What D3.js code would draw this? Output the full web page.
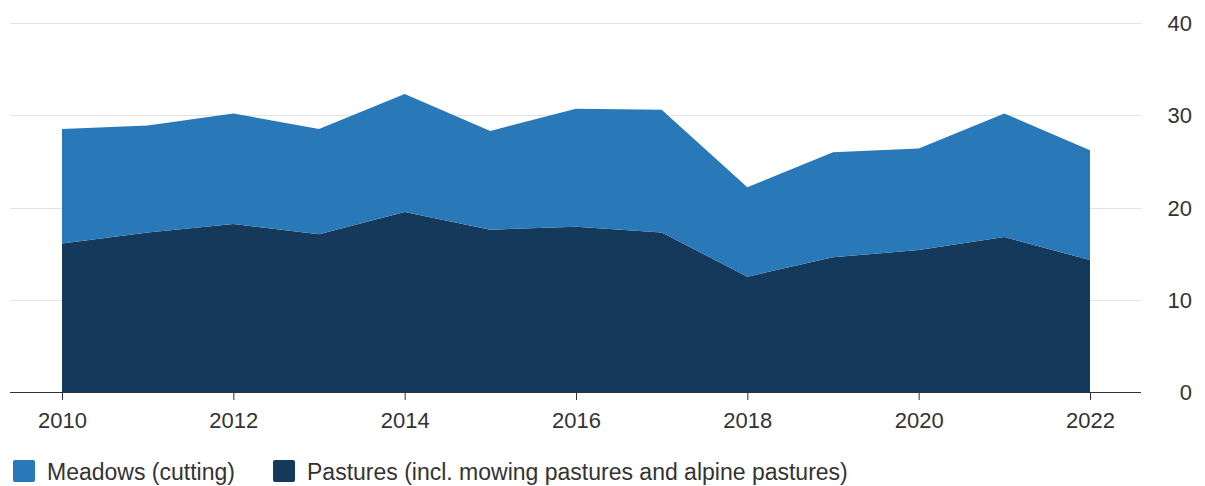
<!DOCTYPE html>
<html>
<head>
<meta charset="utf-8">
<script src="https://cdn.jsdelivr.net/npm/d3@7"></script>
<style>
  body { margin: 0; background: #fff; }
  svg text { font-family: "Liberation Sans", Arial, sans-serif; fill: #333; }
</style>
</head>
<body>
<svg id="chart" width="1205" height="486"></svg>
<script>
var years = [2010, 2011, 2012, 2013, 2014, 2015, 2016, 2017, 2018, 2019, 2020, 2021, 2022];
var pastures = [16.1, 17.3, 18.2, 17.1, 19.5, 17.6, 17.9, 17.3, 12.5, 14.6, 15.4, 16.8, 14.3];
var meadows = [12.4, 11.6, 12.0, 11.4, 12.8, 10.7, 12.8, 13.3, 9.7, 11.4, 11.0, 13.4, 11.9];
var yTicks = [0, 10, 20, 30, 40];
var xTicks = [2010, 2012, 2014, 2016, 2018, 2020, 2022];
var seriesNames = ["Meadows (cutting)", "Pastures (incl. mowing pastures and alpine pastures)"];
var colors = ["#2978b8", "#14395a"];

var svg = d3.select("#chart");
var plotLeft = 10, plotRight = 1141;

var x = d3.scaleLinear().domain([2010, 2022]).range([62, 1090]);
var y = d3.scaleLinear().domain([0, 40]).range([392, 23]);

// stacked rows: pastures at the bottom, meadows on top
var rows = years.map(function(yr, i) {
  return { year: yr, pastures: pastures[i], meadows: meadows[i] };
});
var stack = d3.stack().keys(["pastures", "meadows"]);
var layers = stack(rows);

// gridlines
svg.append("g")
  .selectAll("line")
  .data(yTicks.filter(function(d) { return d > 0; }))
  .enter().append("line")
    .attr("x1", plotLeft)
    .attr("x2", plotRight)
    .attr("y1", function(d) { return Math.round(y(d)) + 0.5; })
    .attr("y2", function(d) { return Math.round(y(d)) + 0.5; })
    .attr("stroke", "#e3e3e3")
    .attr("stroke-width", 1);

var area = d3.area()
  .x(function(d) { return x(d.data.year); })
  .y0(function(d) { return y(d[0]); })
  .y1(function(d) { return y(d[1]); });

svg.append("g")
  .selectAll("path")
  .data(layers)
  .enter().append("path")
    .attr("d", area)
    .attr("fill", function(d) { return d.key === "pastures" ? colors[1] : colors[0]; });

// y labels on the right
svg.append("g")
  .selectAll("text")
  .data(yTicks)
  .enter().append("text")
    .attr("x", 1192)
    .attr("y", function(d) { return y(d) + 8; })
    .attr("text-anchor", "end")
    .style("font-size", "22px")
    .text(function(d) { return d; });

// x axis
var xAxis = d3.axisBottom(x)
  .tickValues(xTicks)
  .tickFormat(d3.format("d"))
  .tickSize(8)
  .tickPadding(12);

var gx = svg.append("g")
  .attr("transform", "translate(0," + y(0) + ")")
  .call(xAxis);
gx.select(".domain").remove();
gx.selectAll(".tick line").attr("stroke", "#333");
gx.selectAll(".tick text")
  .attr("fill", "#333")
  .style("font-size", "22px")
  .style("font-family", "'Liberation Sans', Arial, sans-serif");
gx.insert("line", ":first-child")
  .attr("x1", plotLeft)
  .attr("x2", plotRight)
  .attr("y1", 0.5)
  .attr("y2", 0.5)
  .attr("stroke", "#333")
  .attr("stroke-width", 1);

// legend
var legendX = [13, 273];
var legend = svg.append("g")
  .selectAll("g")
  .data(seriesNames)
  .enter().append("g")
    .attr("transform", function(d, i) { return "translate(" + legendX[i] + ",460)"; });
legend.append("rect")
  .attr("width", 22)
  .attr("height", 22)
  .attr("rx", 2)
  .attr("fill", function(d, i) { return colors[i]; });
legend.append("text")
  .attr("x", 34)
  .attr("y", 20)
  .style("font-size", "23px")
  .text(function(d) { return d; });
</script>
</body>
</html>
